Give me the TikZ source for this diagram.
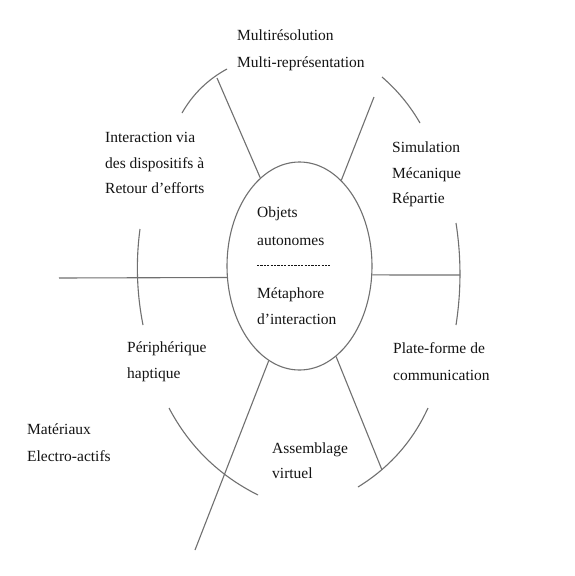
\documentclass[tikz,border=0pt]{standalone}
\usepackage{fontspec}
\setmainfont{Liberation Serif}
\usetikzlibrary{shapes.geometric}
\definecolor{linegray}{RGB}{112,112,112}
\definecolor{txt}{RGB}{20,20,20}
\begin{document}
\begin{tikzpicture}[x=1pt,y=-1pt,
  ln/.style={draw=linegray, line width=1.1pt},
  lbl/.style={anchor=base west, inner sep=0pt, font=\fontsize{15.5}{18}\selectfont, text=txt}]
\useasboundingbox[fill=white] (0,0) rectangle (574,576);
% central ellipse
\node[ellipse, draw=linegray, line width=1.1pt, minimum width=145pt, minimum height=208pt, inner sep=0pt] (E) at (299.5,266) {};
% spoke ends
\coordinate (o1) at (217,78);
\coordinate (o2) at (374,97);
\coordinate (o3) at (460,275);
\coordinate (o4) at (382,470);
\coordinate (o5) at (195,550);
\coordinate (o6) at (59,278);
\draw[ln] (o1) -- (E.114);
\draw[ln] (o2) -- (E.64);
\draw[ln] (E.-7) -- (o3);
\draw[ln] (E.-68) -- (o4);
\draw[ln] (E.252) -- (o5);
\draw[ln] (o6) -- (E.189);
% outer arcs
\coordinate (a1s) at (182,113); \coordinate (a1e) at (227,69);
\coordinate (a2s) at (382,77);  \coordinate (a2e) at (420,123);
\coordinate (a3s) at (456,223); \coordinate (a3e) at (456,325);
\coordinate (a4s) at (428,408); \coordinate (a4e) at (358,487);
\coordinate (a5s) at (169,408); \coordinate (a5e) at (258,495);
\coordinate (a6s) at (140,229); \coordinate (a6e) at (143,325);
\draw[ln] (a1s) .. controls (192.8,94.1) and (207.8,79.4) .. (a1e);
\draw[ln] (a2s) .. controls (397.3,90.2) and (409.9,105.5) .. (a2e);
\draw[ln] (a3s) .. controls (461.3,257) and (461.3,291) .. (a3e);
\draw[ln] (a4s) .. controls (412.7,441.4) and (389.3,467.7) .. (a4e);
\draw[ln] (a5s) .. controls (189.3,446.5) and (219,475.5) .. (a5e);
\draw[ln] (a6s) .. controls (135.7,261) and (136.7,293) .. (a6e);
% ellipse text
\node[lbl] (c1) at (257,217) {Objets};
\node[lbl] (c2) at (257,245) {autonomes};
\coordinate (d1) at (257,265); \coordinate (d2) at (330,265);
\draw[draw=txt, line width=0.9pt, dash pattern=on 2.2pt off 1.2pt] (d1) -- (d2);
\node[lbl] (c3) at (257,298) {Métaphore};
\node[lbl] (c4) at (257,324) {d'interaction};
% outer labels
\node[lbl] (t1) at (237,40) {Multirésolution};
\node[lbl] (t2) at (237,67) {Multi-représentation};
\node[lbl] (i1) at (105,142) {Interaction via};
\node[lbl] (i2) at (105,168) {des dispositifs à};
\node[lbl] (i3) at (105,193) {Retour d'efforts};
\node[lbl] (s1) at (392,152) {Simulation};
\node[lbl] (s2) at (392,178) {Mécanique};
\node[lbl] (s3) at (392,203) {Répartie};
\node[lbl] (p1) at (127,352) {Périphérique};
\node[lbl] (p2) at (127,378) {haptique};
\node[lbl] (f1) at (393,353) {Plate-forme de};
\node[lbl] (f2) at (393,380) {communication};
\node[lbl] (v1) at (272,453) {Assemblage};
\node[lbl] (v2) at (272,478) {virtuel};
\node[lbl] (m1) at (27,434) {Matériaux};
\node[lbl] (m2) at (27,461) {Electro-actifs};
\end{tikzpicture}
\end{document}
